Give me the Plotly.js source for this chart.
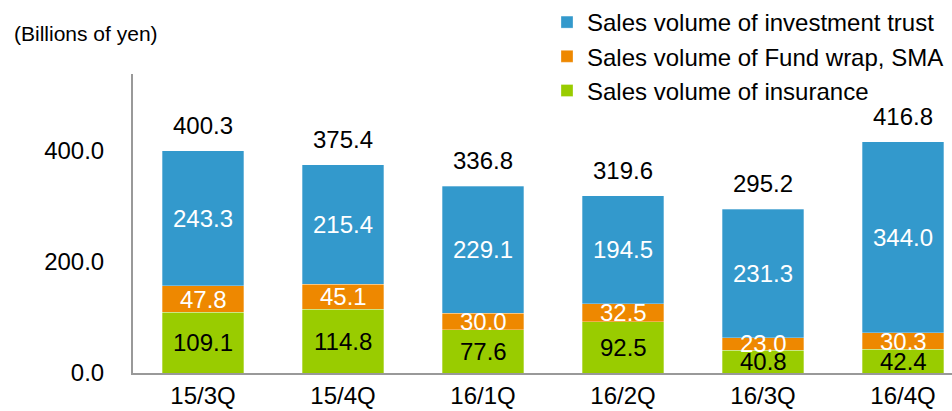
<!DOCTYPE html>
<html>
<head>
<meta charset="utf-8">
<script src="https://cdn.plot.ly/plotly-3.0.1.min.js"></script>
<style>
  html, body { margin: 0; padding: 0; background: #fff; }
  #chart { width: 952px; height: 411px; }
</style>
</head>
<body>
<div id="chart"></div>
<script>
// quarters and sales volumes (billions of yen)
const quarters = ['15/3Q', '15/4Q', '16/1Q', '16/2Q', '16/3Q', '16/4Q'];
const insurance = [109.1, 114.8, 77.6, 92.5, 40.8, 42.4];
const fundWrap = [47.8, 45.1, 30.0, 32.5, 23.0, 30.3];
const investTrust = [243.3, 215.4, 229.1, 194.5, 231.3, 344.0];
const totals = [400.3, 375.4, 336.8, 319.6, 295.2, 416.8];

const FONT = 'Liberation Sans, Arial, sans-serif';
const FS = 24;

function barTrace(name, values, color) {
    return {
        type: 'bar',
        name: name,
        x: quarters,
        y: values,
        marker: { color: color, line: { color: 'rgba(255,255,255,0.6)', width: 0.5 } },
        hoverinfo: 'skip'
    };
}

const data = [
    barTrace('Sales volume of insurance', insurance, '#99cc00'),
    barTrace('Sales volume of Fund wrap, SMA', fundWrap, '#ee8800'),
    barTrace('Sales volume of investment trust', investTrust, '#3399cc')
];

// value labels centred in each stacked segment, totals above the bars
const annotations = [];
const stacks = [
    { values: insurance, color: '#000' },
    { values: fundWrap, color: '#fff' },
    { values: investTrust, color: '#fff' }
];
quarters.forEach((q, i) => {
    let base = 0;
    stacks.forEach(s => {
        const v = s.values[i];
        annotations.push({
            x: q, y: base + v / 2, xref: 'x', yref: 'y',
            text: v.toFixed(1), showarrow: false,
            font: { family: FONT, size: FS, color: s.color }
        });
        base += v;
    });
    annotations.push({
        x: q, y: totals[i], xref: 'x', yref: 'y',
        text: totals[i].toFixed(1), showarrow: false,
        yanchor: 'bottom', yshift: 10,
        font: { family: FONT, size: FS, color: '#000' }
    });
});
annotations.push({
    text: '(Billions of yen)',
    xref: 'paper', yref: 'paper',
    x: -133 / 819, xanchor: 'left', xshift: 12,
    y: 1, yanchor: 'bottom', yshift: 27,
    showarrow: false,
    font: { family: FONT, size: 21, color: '#000' }
});

const layout = {
    width: 952,
    height: 411,
    barmode: 'stack',
    bargap: 0.42,
    margin: { l: 133, r: 0, t: 74, b: 38, autoexpand: false },
    paper_bgcolor: '#fff',
    plot_bgcolor: '#fff',
    font: { family: FONT, size: FS, color: '#000' },
    xaxis: {
        type: 'category',
        range: [-0.5, 5.35],
        showline: true,
        linecolor: '#999',
        linewidth: 2,
        showgrid: false,
        ticks: '',
        ticklabelstandoff: 0,
        tickfont: { family: FONT, size: FS, color: '#000' }
    },
    yaxis: {
        range: [0, 538.7],
        tickvals: [0, 200, 400],
        ticktext: ['0.0', '200.0', '400.0'],
        showline: true,
        linecolor: '#999',
        linewidth: 2,
        showgrid: false,
        zeroline: false,
        ticks: '',
        ticklabelstandoff: 22,
        tickfont: { family: FONT, size: FS, color: '#000' }
    },
    legend: {
        x: (547 - 133) / 819,
        xanchor: 'left',
        y: 1,
        yanchor: 'top',
        yref: 'container',
        traceorder: 'reversed',
        font: { family: FONT, size: FS, color: '#000' },
        itemwidth: 30,
        bgcolor: 'rgba(0,0,0,0)'
    },
    annotations: annotations
};

Plotly.newPlot('chart', data, layout, { displayModeBar: false, staticPlot: true });
</script>
</body>
</html>
